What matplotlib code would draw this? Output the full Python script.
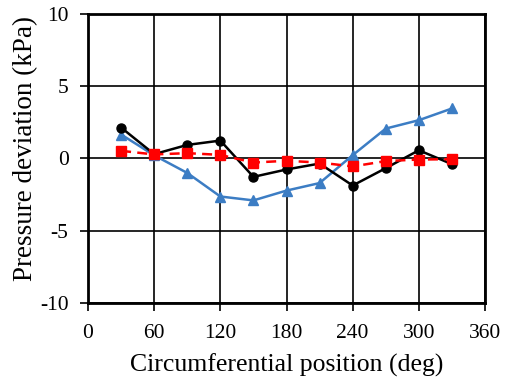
import matplotlib
matplotlib.use("Agg")
import matplotlib.pyplot as plt

# Circumferential positions (deg) and pressure deviations (kPa)
angles = [30, 60, 90, 120, 150, 180, 210, 240, 270, 300, 330]
dev_black = [2.14, 0.30, 0.94, 1.24, -1.27, -0.76, -0.35, -1.87, -0.67, 0.57, -0.39]
dev_blue = [1.66, 0.22, -1.00, -2.63, -2.90, -2.22, -1.70, 0.23, 2.07, 2.65, 3.46]
dev_red = [0.53, 0.28, 0.37, 0.25, -0.28, -0.16, -0.28, -0.55, -0.18, -0.07, -0.05]

x_ticks = [0, 60, 120, 180, 240, 300, 360]
y_ticks = [-10, -5, 0, 5, 10]

plt.rcParams["font.family"] = ["Liberation Serif", "DejaVu Serif"]

fig = plt.figure(figsize=(5.05, 3.81), dpi=100)
ax = fig.add_axes([0.1743, 0.2047, 0.7861, 0.7586])

ax.plot(angles, dev_black, color="black", lw=1.8, marker="o", ms=6.5, zorder=4)
ax.plot(angles, dev_blue, color="#3C7DC4", lw=1.8, marker="^", ms=6.5, zorder=3)
ax.plot(angles, dev_red, color="#FF0000", lw=1.8, ls=(0, (4, 2.5)), marker="s",
        ms=6.5, zorder=5)

ax.set_xlim(0, 360)
ax.set_ylim(-10, 10)
ax.set_xticks(x_ticks)
ax.set_yticks(y_ticks)
ax.set_yticklabels([str(v) for v in y_ticks])
ax.grid(True, color="black", lw=1.2)
ax.set_axisbelow(True)
for s in ax.spines.values():
    s.set_linewidth(2)
    s.set_color("black")
ax.tick_params(direction="out", length=6, width=1.2, labelsize=15.5)
ax.tick_params(axis="x", pad=9)
ax.tick_params(axis="y", pad=8)

ax.set_xlabel("Circumferential position (deg)", fontsize=18.5)
ax.set_ylabel("Pressure deviation (kPa)", fontsize=19.5)
ax.xaxis.label.set_va("center")
ax.yaxis.label.set_va("center")
ax.xaxis.set_label_coords(0.5, -0.215)
ax.yaxis.set_label_coords(-0.158, 0.535)

fig.savefig("out.png", dpi=100)
